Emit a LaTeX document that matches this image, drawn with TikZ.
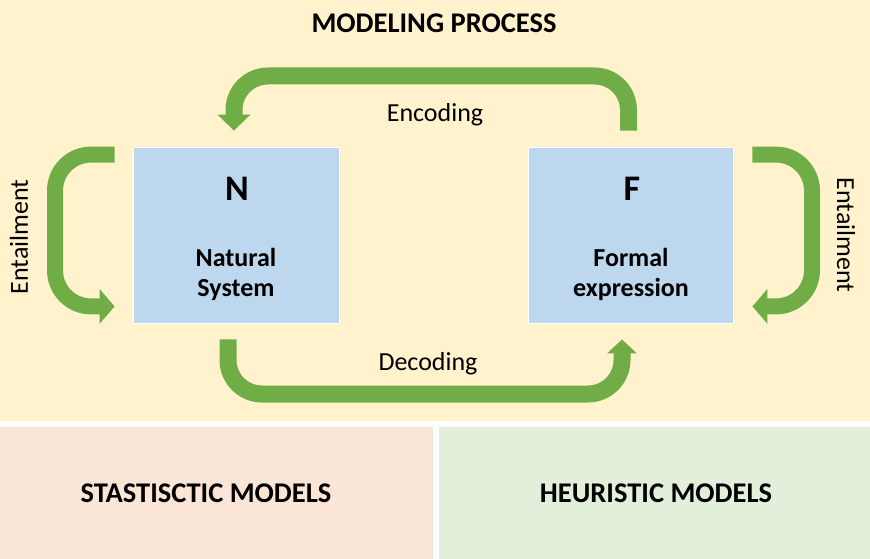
\documentclass[tikz,border=0pt]{standalone}
\usepackage{fontspec}
\setmainfont{Carlito}
\usetikzlibrary{arrows.meta}
\definecolor{bgyellow}{HTML}{FFF2CC}
\definecolor{bgpink}{HTML}{FBE5D6}
\definecolor{bggreen}{HTML}{E2EFDA}
\definecolor{boxblue}{HTML}{BDD7EE}
\definecolor{arrowgreen}{HTML}{70AD47}
\begin{document}
\begin{tikzpicture}[x=1pt,y=-1pt,
  sysbox/.style={fill=boxblue,draw=white,line width=0.8pt,minimum height=176pt,inner sep=0pt},
  garrow/.style={draw=arrowgreen,line width=17pt,rounded corners=34pt,
     -{Triangle[width=32pt,length=16pt]}},
  earrow/.style={draw=arrowgreen,line width=16pt,rounded corners=36pt,
     -{Triangle[width=34pt,length=15pt]}},
  lbl/.style={font=\fontsize{26}{30}\selectfont,inner sep=0pt,anchor=base},
  blbl/.style={font=\bfseries\fontsize{26}{30}\selectfont,inner sep=0pt,align=center},
  big/.style={font=\bfseries\fontsize{36}{40}\selectfont,inner sep=0pt,anchor=base},
  head/.style={font=\bfseries\fontsize{28.5}{32}\selectfont,inner sep=0pt,anchor=base}]
\useasboundingbox (0,0) rectangle (870,559);
\fill[white] (0,0) rectangle (870,559);
\fill[bgyellow] (0,0) rectangle (870,421);
\fill[bgpink] (0,427) rectangle (433,559);
\fill[bggreen] (439,427) rectangle (870,559);

\node[head] (title) at (434,33) {MODELING PROCESS};
\node[head] (stat) at (206,502) {STASTISCTIC MODELS};
\node[head] (heur) at (656,502) {HEURISTIC MODELS};

\node[sysbox,minimum width=206pt] (N) at (236,235) {};
\node[sysbox,minimum width=205pt] (F) at (630.5,235) {};

\node[big] (Nl) at (237,200) {N};
\node[big] (Fl) at (632,200) {F};
\node[blbl,anchor=base] (Nt) at (236,296) {Natural\\System};
\node[blbl,anchor=base] (Ft) at (631,296) {Formal\\expression};

\coordinate (enc) at (432,76);
\coordinate (dec) at (425,394);
\coordinate (entl) at (55,230);
\coordinate (entr) at (812,230);

\draw[garrow] ([xshift=-2pt,yshift=16pt]F.north) |- (enc) -| ([xshift=-2pt,yshift=16pt]N.north);
\draw[garrow,-{Triangle[width=29pt,length=14pt]}] ([xshift=-8pt,yshift=-16pt]N.south) |- (dec) -| ([xshift=-8.5pt,yshift=-16pt]F.south);
\draw[earrow] ([xshift=-18pt,yshift=-8pt]N.north west) -| (entl) |- ([xshift=-18pt,yshift=17pt]N.south west);
\draw[earrow] ([xshift=19pt,yshift=-8pt]F.north east) -| (entr) |- ([xshift=19pt,yshift=17pt]F.south east);

\node[lbl] (enct) at (435,122) {Encoding};
\node[lbl] (dect) at (428,370) {Decoding};
\node[lbl,anchor=center,rotate=90] (entlt) at (19,237) {Entailment};
\node[lbl,anchor=center,rotate=-90] (entrt) at (846,235) {Entailment};
\end{tikzpicture}
\end{document}
